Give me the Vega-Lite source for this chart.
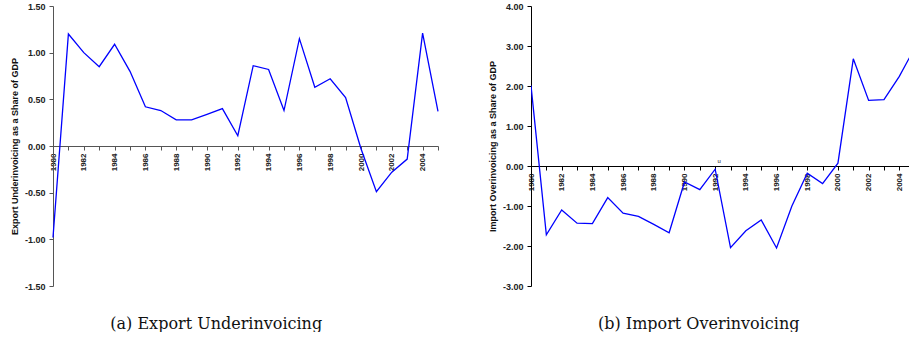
{
  "$schema": "https://vega.github.io/schema/vega-lite/v6.json",
  "padding": {"left": 10, "top": 2, "right": 0, "bottom": 0},
  "background": "white",
  "config": {
    "view": {"stroke": null},
    "axis": {
      "grid": false,
      "labelFont": "Liberation Sans",
      "labelFontWeight": "bold",
      "labelFontSize": 8,
      "labelColor": "#222222",
      "titleFont": "Liberation Sans",
      "titleFontWeight": "bold",
      "titleFontSize": 9,
      "titleColor": "#111111",
      "tickSize": 4,
      "labelPadding": 3,
      "labelFlush": false,
      "labelOverlap": false,
      "labelBound": false
    },
    "axisY": {"labelFontSize": 9, "labelPadding": 4},
    "title": {
      "font": "DejaVu Serif",
      "fontSize": 16,
      "fontWeight": "normal",
      "color": "#111111",
      "orient": "bottom",
      "frame": "bounds",
      "anchor": "middle",
      "offset": 25
    }
  },
  "datasets": {
    "exp": [
      {"year": 1980, "value": -0.98},
      {"year": 1981, "value": 1.20},
      {"year": 1982, "value": 1.00},
      {"year": 1983, "value": 0.85},
      {"year": 1984, "value": 1.09},
      {"year": 1985, "value": 0.80},
      {"year": 1986, "value": 0.42},
      {"year": 1987, "value": 0.38},
      {"year": 1988, "value": 0.28},
      {"year": 1989, "value": 0.28},
      {"year": 1990, "value": 0.34},
      {"year": 1991, "value": 0.40},
      {"year": 1992, "value": 0.11},
      {"year": 1993, "value": 0.86},
      {"year": 1994, "value": 0.82},
      {"year": 1995, "value": 0.38},
      {"year": 1996, "value": 1.15},
      {"year": 1997, "value": 0.63},
      {"year": 1998, "value": 0.72},
      {"year": 1999, "value": 0.52},
      {"year": 2000, "value": -0.03},
      {"year": 2001, "value": -0.49},
      {"year": 2002, "value": -0.28},
      {"year": 2003, "value": -0.14},
      {"year": 2004, "value": 1.21},
      {"year": 2005, "value": 0.37}
    ],
    "imp": [
      {"year": 1980, "value": 2.01},
      {"year": 1981, "value": -1.72},
      {"year": 1982, "value": -1.10},
      {"year": 1983, "value": -1.43},
      {"year": 1984, "value": -1.44},
      {"year": 1985, "value": -0.79},
      {"year": 1986, "value": -1.18},
      {"year": 1987, "value": -1.26},
      {"year": 1988, "value": -1.46},
      {"year": 1989, "value": -1.67},
      {"year": 1990, "value": -0.40},
      {"year": 1991, "value": -0.59},
      {"year": 1992, "value": -0.08},
      {"year": 1993, "value": -2.04},
      {"year": 1994, "value": -1.62},
      {"year": 1995, "value": -1.35},
      {"year": 1996, "value": -2.05},
      {"year": 1997, "value": -1.00},
      {"year": 1998, "value": -0.18},
      {"year": 1999, "value": -0.44},
      {"year": 2000, "value": 0.07},
      {"year": 2001, "value": 2.68},
      {"year": 2002, "value": 1.64},
      {"year": 2003, "value": 1.66},
      {"year": 2004, "value": 2.24},
      {"year": 2005, "value": 2.95}
    ],
    "note": [
      {"year": 1992, "value": 0, "label": "u"}
    ]
  },
  "spacing": 46,
  "hconcat": [
    {
      "width": 385,
      "height": 280,
      "title": {"text": "(a) Export Underinvoicing", "dx": -10},
      "data": {"name": "exp"},
      "mark": {"type": "line", "color": "#0000ff", "strokeWidth": 1.3},
      "encoding": {
        "x": {
          "field": "year",
          "type": "quantitative",
          "scale": {"domain": [1980, 2005], "nice": false, "zero": false},
          "axis": {
            "title": null,
            "values": [1980,1981,1982,1983,1984,1985,1986,1987,1988,1989,1990,1991,1992,1993,1994,1995,1996,1997,1998,1999,2000,2001,2002,2003,2004,2005],
            "labelExpr": "datum.value % 2 == 0 ? format(datum.value, 'd') : ''",
            "labelAngle": -90,
            "offset": -140,
            "domainColor": "#555555",
            "tickColor": "#555555"
          }
        },
        "y": {
          "field": "value",
          "type": "quantitative",
          "scale": {"domain": [-1.5, 1.5], "nice": false, "zero": false},
          "axis": {
            "title": "Export Underinvoicing as a Share of GDP",
            "values": [-1.5, -1, -0.5, 0, 0.5, 1, 1.5],
            "labelExpr": "replace(format(datum.value, '.2f'), '−', '-')",
            "titlePadding": 5,
            "domainColor": "#555555",
            "tickColor": "#555555"
          }
        }
      }
    },
    {
      "width": 378,
      "height": 280,
      "title": {"text": "(b) Import Overinvoicing"},
      "encoding": {
        "x": {
          "field": "year",
          "type": "quantitative",
          "scale": {"domain": [1980, 2004.63], "nice": false, "zero": false},
          "axis": {
            "title": null,
            "values": [1980,1981,1982,1983,1984,1985,1986,1987,1988,1989,1990,1991,1992,1993,1994,1995,1996,1997,1998,1999,2000,2001,2002,2003,2004],
            "labelExpr": "datum.value % 2 == 0 ? format(datum.value, 'd') : ''",
            "labelAngle": -90,
            "offset": -120,
            "domainColor": "#000000",
            "tickColor": "#000000"
          }
        },
        "y": {
          "field": "value",
          "type": "quantitative",
          "scale": {"domain": [-3, 4], "nice": false, "zero": false},
          "axis": {
            "title": "Import Overinvoicing as a Share of GDP",
            "values": [-3, -2, -1, 0, 1, 2, 3, 4],
            "labelExpr": "replace(format(datum.value, '.2f'), '−', '-')",
            "titlePadding": 5,
            "domainColor": "#000000",
            "tickColor": "#000000"
          }
        }
      },
      "layer": [
        {
          "data": {"name": "imp"},
          "mark": {"type": "line", "color": "#0000ff", "strokeWidth": 1.3, "clip": true}
        },
        {
          "data": {"name": "note"},
          "mark": {"type": "text", "fontSize": 6, "font": "Liberation Sans", "dx": 4, "dy": -5, "color": "#222222"},
          "encoding": {
            "text": {"field": "label"}
          }
        }
      ]
    }
  ]
}
